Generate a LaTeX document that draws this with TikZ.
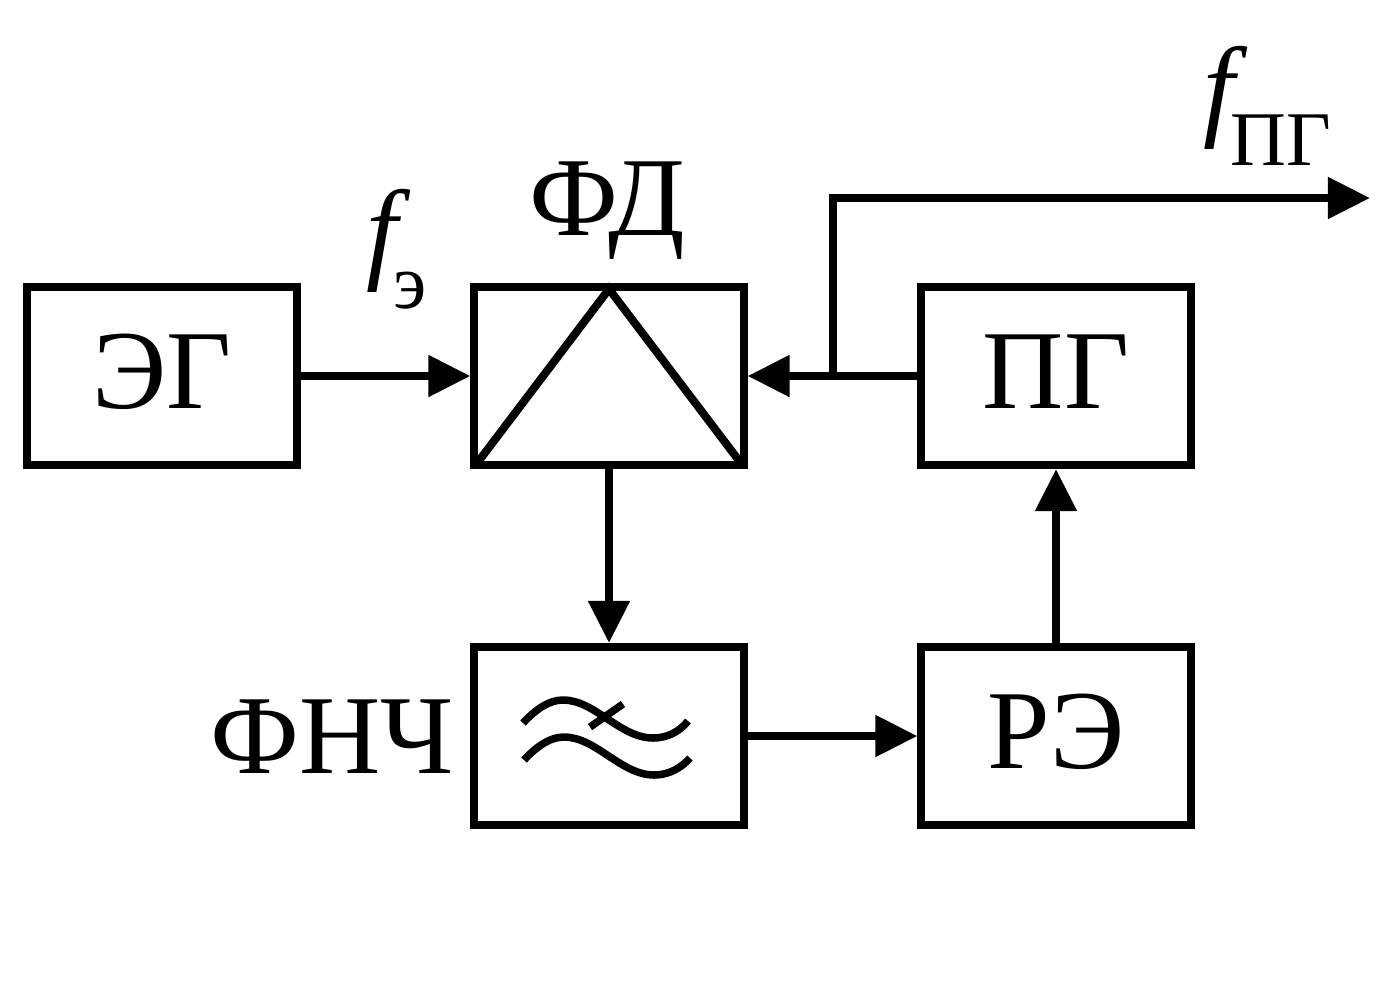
\documentclass[tikz,border=0pt]{standalone}
\usepackage{fontspec}
\setmainfont{Liberation Serif}
\usetikzlibrary{arrows.meta}
\begin{document}
\begin{tikzpicture}[x=0.01cm,y=-0.01cm, line width=0.08cm,
  box/.style={draw, rectangle, minimum width=2.69cm, minimum height=1.78cm, inner sep=0pt,
    text height=0.64cm, text depth=0pt, font=\fontsize{32}{38}\selectfont},
  lbl/.style={inner sep=0pt, font=\fontsize{32}{38}\selectfont},
  arr/.style={-{Triangle[length=0.42cm,width=0.4cm]}},
  wave/.style={line width=0.075cm}]
\useasboundingbox (0,0) rectangle (1400,990);
% blocks
\node[box] (eg)  at (162,376) {ЭГ};
\node[box] (fd)  at (609,376) {};
\node[box] (pg)  at (1056,376) {ПГ};
\node[box] (lpf) at (609,736) {};
\node[box] (re)  at (1056,736) {РЭ};
% labels
\node[lbl, anchor=base] (fdl) at (607,235) {ФД};
\node[lbl, anchor=base east] (lpfl) at (458,773) {ФНЧ};
\node[lbl, anchor=base west] (fe) at (362,268) {\itshape f\upshape\kern-1pt\raisebox{-0.4cm}{\fontsize{22}{26}\selectfont э}};
\node[lbl, anchor=base west] (fpg) at (1199,125) {\itshape f\upshape\kern-1pt\raisebox{-0.4cm}{\fontsize{22}{26}\selectfont ПГ}};
% phase detector symbol
\draw (478,462) -- (609,289) -- (740,462);
% low-pass filter symbol
\draw[wave] (523,723) .. controls (537,708) and (550,700) .. (563,700)
  .. controls (595,700) and (620,738) .. (653,738)
  .. controls (668,738) and (680,731) .. (688,721);
\draw[wave] (524,760) .. controls (538,745) and (551,737) .. (564,737)
  .. controls (596,737) and (621,775) .. (654,775)
  .. controls (669,775) and (681,768) .. (690,758);
\draw[wave] (590,727) -- (623,704);
% connectors
\coordinate (br) at (833,376);
\coordinate (fout) at (1370,198);
\draw[arr] (eg.east) -- (fd.west);
\draw[arr] (pg.west) -- (fd.east);
\draw[arr] (br) |- (fout);
\draw[arr] (fd.south) -- (lpf.north);
\draw[arr] (lpf.east) -- (re.west);
\draw[arr] (re.north) -- (pg.south);
\end{tikzpicture}
\end{document}
